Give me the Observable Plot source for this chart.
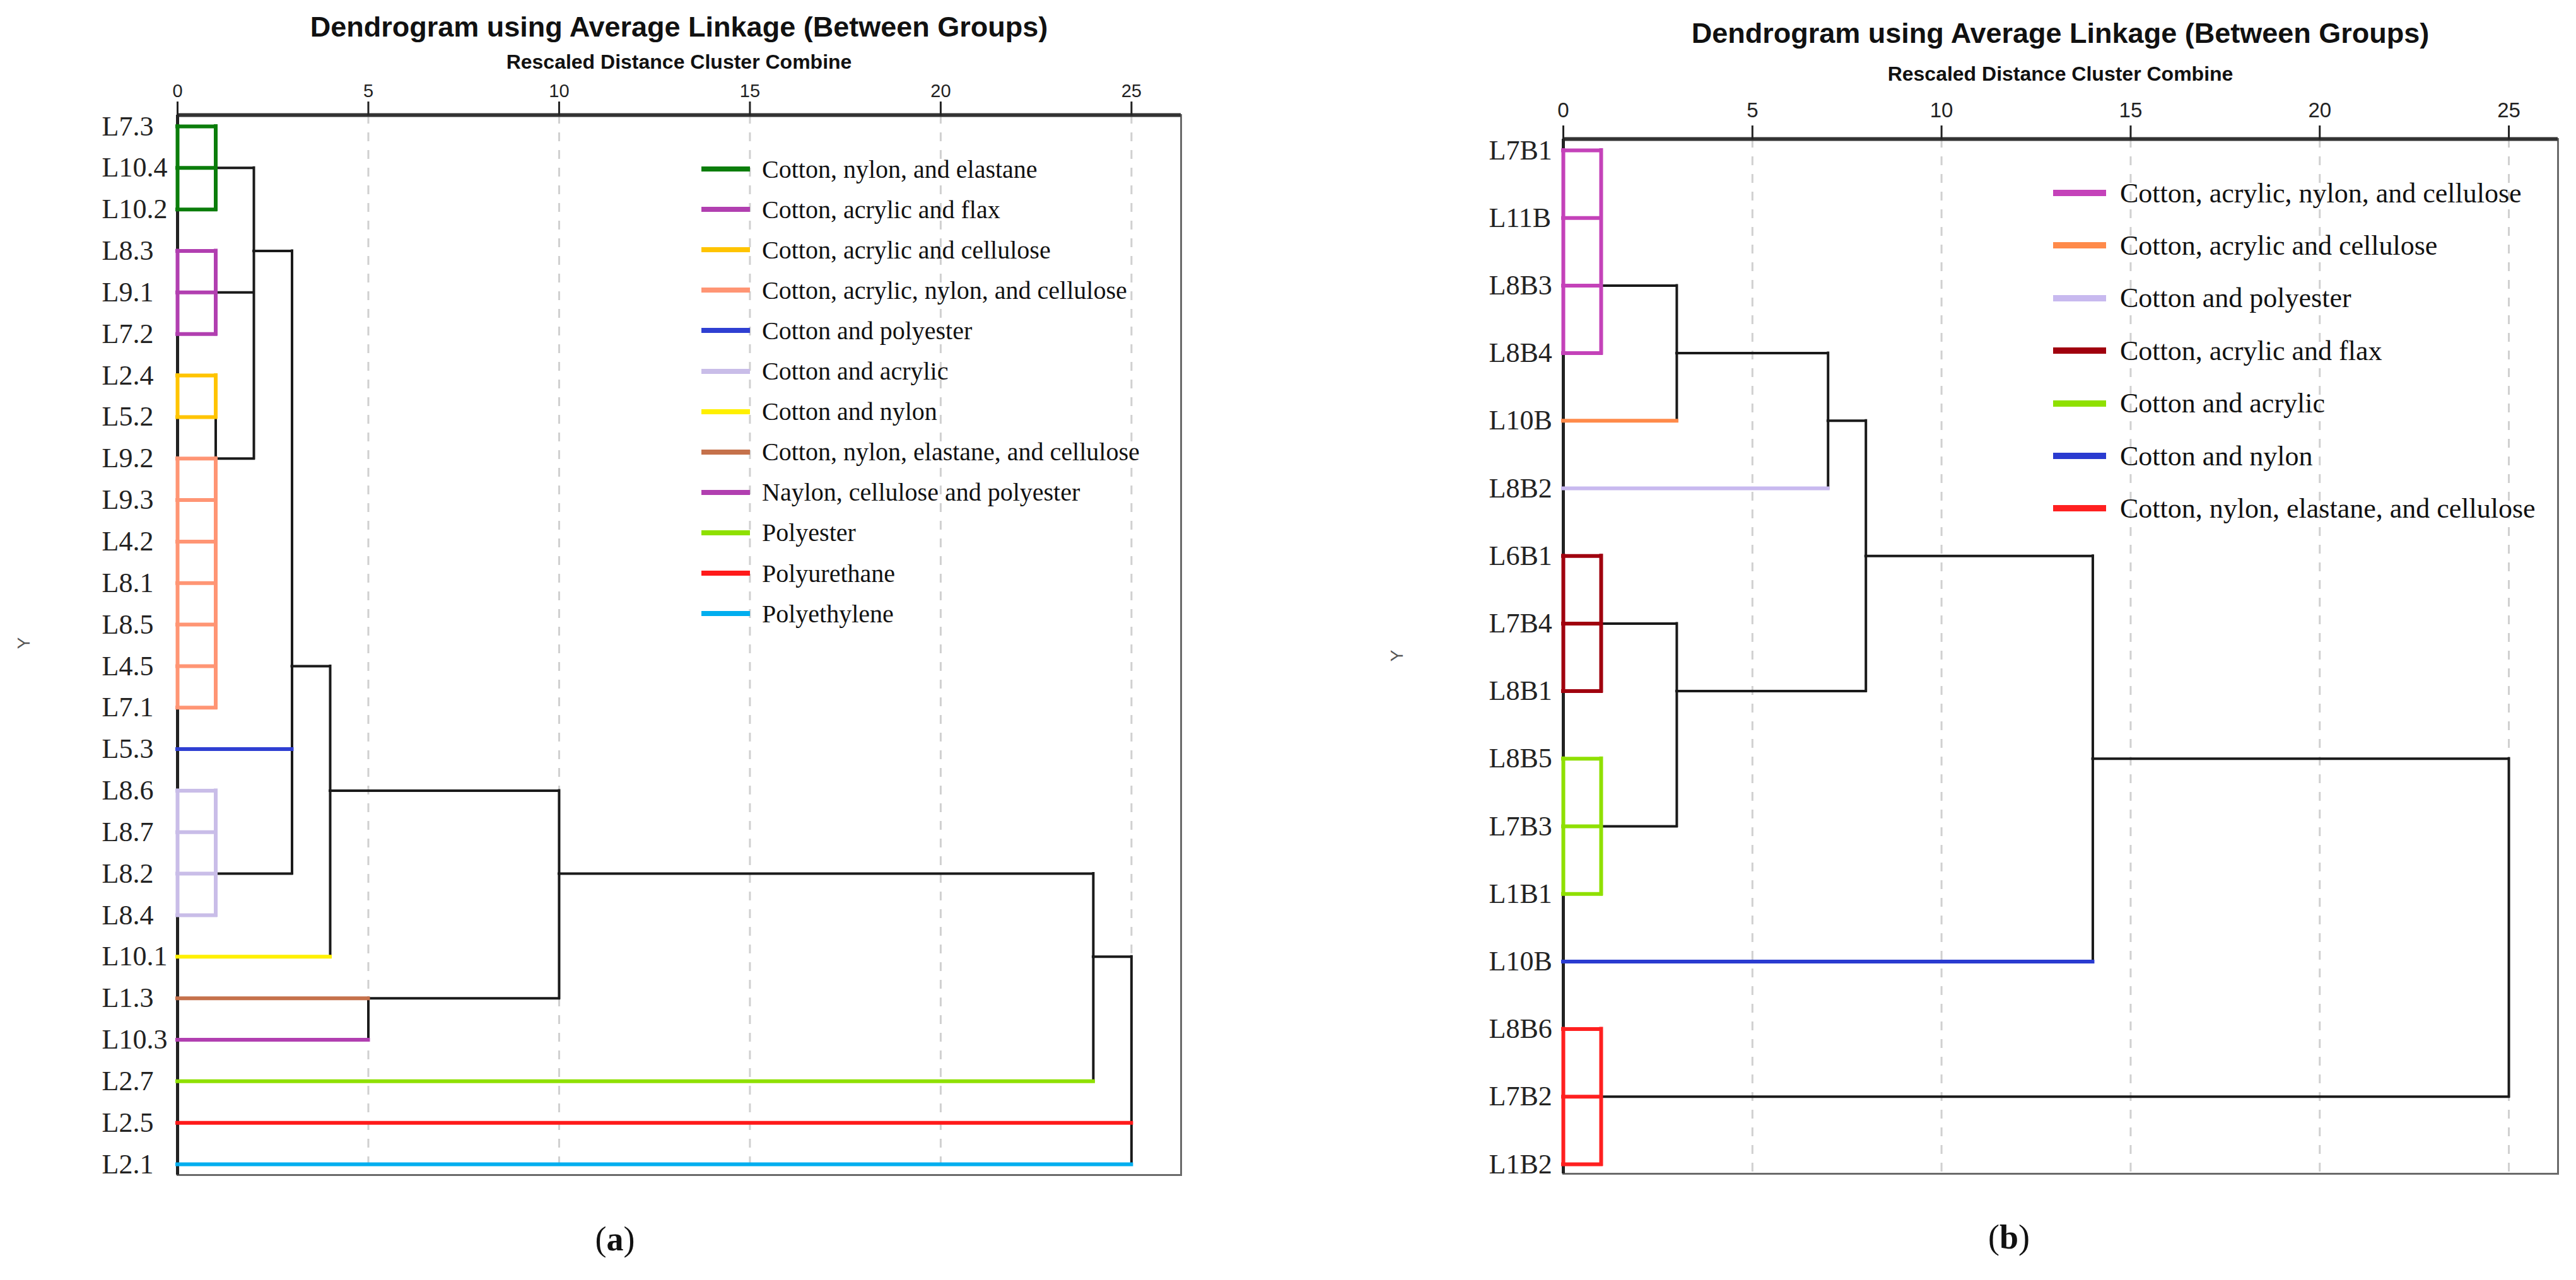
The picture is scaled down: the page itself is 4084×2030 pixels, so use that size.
<!DOCTYPE html>
<html>
<head>
<meta charset="utf-8">
<script src="https://cdn.jsdelivr.net/npm/d3@7"></script>
<script src="https://cdn.jsdelivr.net/npm/@observablehq/plot@0.6"></script>
<style>
  html, body { margin: 0; padding: 0; background: #fff; }
  #page { position: relative; width: 4084px; height: 2030px; overflow: hidden; background: #fff; }
  .abs { position: absolute; white-space: nowrap; }
  .title { font-family: "Liberation Sans", Arial, sans-serif; font-weight: bold; color: #111; transform: translate(-50%, -50%); }
  .ylab { font-family: "Liberation Sans", Arial, sans-serif; color: #555; transform: translate(-50%, -50%) rotate(-90deg); }
  .cap { font-family: "Liberation Serif", "Times New Roman", serif; color: #111; transform: translate(-50%, -50%); }
  .leg { display: flex; align-items: center; font-family: "Liberation Serif", "Times New Roman", serif; color: #111; }
  svg { position: absolute; top: 0; }
</style>
</head>
<body>
<div id="page"></div>
<script>
// ---------------- DATA: panel (a) ----------------
const leavesA = ["L7.3","L10.4","L10.2","L8.3","L9.1","L7.2","L2.4","L5.2","L9.2","L9.3","L4.2","L8.1","L8.5","L4.5","L7.1","L5.3","L8.6","L8.7","L8.2","L8.4","L10.1","L1.3","L10.3","L2.7","L2.5","L2.1"];
const groupsA = ["Cotton, nylon, and elastane","Cotton, acrylic and flax","Cotton, acrylic and cellulose","Cotton, acrylic, nylon, and cellulose","Cotton and polyester","Cotton and acrylic","Cotton and nylon","Cotton, nylon, elastane, and cellulose","Naylon, cellulose and polyester","Polyester","Polyurethane","Polyethylene"];
const colorsA = ["#0b7d0b","#b13fb0","#ffc400","#ff9574","#2f3fd2","#c9bde8","#fff000","#c5714b","#b13fb0","#8fe000","#ff1a1a","#00aeef"];
const leafGroupA = [0,0,0,1,1,1,2,2,3,3,3,3,3,3,3,4,5,5,5,5,6,7,8,9,10,11];
const leafEndA   = [1,1,1,1,1,1,1,1,1,1,1,1,1,1,1,3,1,1,1,1,4,5,5,24,25,25];
// boxed clusters: [group, first row, last row, height]
const boxesA = [[0,0,2,1],[1,3,5,1],[2,6,7,1],[3,8,14,1],[5,16,19,1]];
// merges: height, rows of children links, start distance of each child link
const mergeHeightA = [1, 2, 3, 4, 5, 10, 24, 25];
const mergeRowsA   = [[7,8],[1,4,8],[3,15,18],[13,20],[21,22],[16,21],[18,23],[20,24,25]];
const mergeFromA   = [[1,1],[1,1,1],[2,3,1],[3,4],[5,5],[4,5],[10,24],[24,25,25]];

// ---------------- DATA: panel (b) ----------------
const leavesB = ["L7B1","L11B","L8B3","L8B4","L10B","L8B2","L6B1","L7B4","L8B1","L8B5","L7B3","L1B1","L10B","L8B6","L7B2","L1B2"];
const groupsB = ["Cotton, acrylic, nylon, and cellulose","Cotton, acrylic and cellulose","Cotton and polyester","Cotton, acrylic and flax","Cotton and acrylic","Cotton and nylon","Cotton, nylon, elastane, and cellulose"];
const colorsB = ["#c442b9","#ff8a4a","#c8b9ef","#a0000e","#8fe000","#2a3bd0","#ff2020"];
const leafGroupB = [0,0,0,0,1,2,3,3,3,4,4,4,5,6,6,6];
const leafEndB   = [1,1,1,1,3,7,1,1,1,1,1,1,14,1,1,1];
const boxesB = [[0,0,3,1],[3,6,8,1],[4,9,11,1],[6,13,15,1]];
const mergeHeightB = [3, 7, 3, 8, 14, 25];
const mergeRowsB   = [[2,4],[3,5],[7,10],[4,8],[6,12],[9,14]];
const mergeFromB   = [[1,3],[3,7],[1,1],[7,3],[8,14],[14,1]];

const xTicks = [0, 5, 10, 15, 20, 25];
const gridTicks = [5, 10, 15, 20, 25];
const xMax = 26.3;

const titleText = "Dendrogram using Average Linkage (Between Groups)";
const subtitleText = "Rescaled Distance Cluster Combine";

// ---------------- BUILD ----------------
const page = document.getElementById("page");

function addDiv(cls, text, css) {
  const d = document.createElement("div");
  d.className = "abs " + cls;
  if (text != null) d.textContent = text;
  Object.assign(d.style, css);
  page.appendChild(d);
  return d;
}

function panel(cfg) {
  const {leaves, groups, colors, leafGroup, leafEnd, boxes, mH, mRows, mFrom} = cfg;
  const leafTable = leaves.map((label, i) => ({row: i, label, x1: 0, x2: leafEnd[i], g: groups[leafGroup[i]]}));
  const boxTable = boxes.flatMap(([g, a, b, h]) => [
    {x: 0, y1: a, y2: b, g: groups[g]},
    {x: h, y1: a, y2: b, g: groups[g]}
  ]);
  const vTable = mH.map((h, k) => ({x: h, y1: d3.min(mRows[k]), y2: d3.max(mRows[k])}));
  const hTable = mH.flatMap((h, k) => mRows[k].map((r, j) => ({row: r, x1: mFrom[k][j], x2: h}))).filter(d => d.x1 < d.x2);

  const svg = Plot.plot({
    width: cfg.width, height: cfg.height,
    marginLeft: cfg.ml, marginRight: cfg.mr, marginTop: cfg.mt, marginBottom: cfg.mb,
    style: {background: "transparent", fontFamily: '"Liberation Sans Narrow", "Liberation Sans", Arial, sans-serif', fontSize: cfg.tickFont + "px", color: "#222"},
    x: {domain: [0, xMax]},
    y: {domain: [0, leaves.length - 1], reverse: true, insetTop: cfg.insetTop, insetBottom: cfg.insetBottom, axis: null},
    color: {domain: groups, range: colors},
    marks: [
      Plot.ruleX(gridTicks, {stroke: "#d0d0d0", strokeWidth: 3, strokeDasharray: "14,14"}),
      Plot.frame({stroke: "#6a6a6a", strokeWidth: 3}),
      Plot.ruleY([0], {dy: -cfg.insetTop, stroke: "#333", strokeWidth: 6}),
      Plot.ruleX([0], {stroke: "#222", strokeWidth: 5}),
      Plot.ruleX(vTable, {x: "x", y1: "y1", y2: "y2", stroke: "#1a1a1a", strokeWidth: 4, strokeLinecap: "square"}),
      Plot.ruleY(hTable, {y: "row", x1: "x1", x2: "x2", stroke: "#1a1a1a", strokeWidth: 4, strokeLinecap: "square"}),
      Plot.ruleY(leafTable, {y: "row", x1: "x1", x2: "x2", stroke: "g", strokeWidth: cfg.colorWidth, strokeLinecap: "square"}),
      Plot.ruleX(boxTable, {x: "x", y1: "y1", y2: "y2", stroke: "g", strokeWidth: cfg.colorWidth, strokeLinecap: "square"}),
      Plot.text(leafTable, {y: "row", text: "label", frameAnchor: "left", textAnchor: "start", dx: cfg.labelDx,
        fontSize: cfg.leafFont, fontFamily: '"Liberation Serif", "Times New Roman", serif', fill: "#222", letterSpacing: cfg.leafSpacing}),
      Plot.axisX({anchor: "top", ticks: xTicks, tickSize: 22, tickPadding: cfg.tickPad, strokeWidth: 3, stroke: "#222", label: null, fill: "#222"})
    ]
  });
  svg.style.left = cfg.left + "px";
  page.appendChild(svg);

  // titles
  const cx = cfg.left + cfg.ml + (cfg.width - cfg.ml - cfg.mr) / 2;
  addDiv("title", titleText, {left: cx + "px", top: cfg.titleY + "px", fontSize: "45px"});
  addDiv("title", subtitleText, {left: cx + "px", top: cfg.subY + "px", fontSize: "32px"});
  addDiv("ylab", "Y", {left: cfg.yLabX + "px", top: cfg.yLabY + "px", fontSize: "28px"});

  // legend
  groups.forEach((g, i) => {
    const row = addDiv("leg", null, {left: cfg.legX + "px", top: (cfg.legY + i * cfg.legStep - 30) + "px", height: "60px", fontSize: cfg.legFont + "px"});
    const sw = document.createElement("span");
    Object.assign(sw.style, {display: "inline-block", width: cfg.swW + "px", height: cfg.swH + "px", background: colors[i], marginRight: cfg.swGap + "px"});
    const tx = document.createElement("span");
    tx.textContent = g;
    row.appendChild(sw); row.appendChild(tx);
  });

  // caption
  const cap = addDiv("cap", null, {left: cfg.capX + "px", top: cfg.capY + "px", fontSize: "54px"});
  cap.innerHTML = "(<b>" + cfg.capLetter + "</b>)";
}

panel({
  leaves: leavesA, groups: groupsA, colors: colorsA, leafGroup: leafGroupA, leafEnd: leafEndA, boxes: boxesA,
  mH: mergeHeightA, mRows: mergeRowsA, mFrom: mergeFromA,
  left: 0, width: 2040, height: 1900, ml: 281, mr: 168, mt: 182, mb: 37, insetTop: 18, insetBottom: 17,
  tickFont: 29, tickPad: 7, leafFont: 44, leafSpacing: 1, labelDx: -120, colorWidth: 6,
  titleY: 43, subY: 98, yLabX: 38, yLabY: 1020,
  legX: 1112, legY: 268, legStep: 64.1, legFont: 40, swW: 77, swH: 8, swGap: 19,
  capX: 975, capY: 1965, capLetter: "a"
});

panel({
  leaves: leavesB, groups: groupsB, colors: colorsB, leafGroup: leafGroupB, leafEnd: leafEndB, boxes: boxesB,
  mH: mergeHeightB, mRows: mergeRowsB, mFrom: mergeFromB,
  left: 2044, width: 2040, height: 1900, ml: 434, mr: 29, mt: 220, mb: 39, insetTop: 18, insetBottom: 15,
  tickFont: 33, tickPad: 13, leafFont: 44, leafSpacing: 0, labelDx: -118, colorWidth: 6,
  titleY: 53, subY: 117, yLabX: 2215, yLabY: 1040,
  legX: 3255, legY: 306, legStep: 83.4, legFont: 44, swW: 84, swH: 10, swGap: 22,
  capX: 3185, capY: 1962, capLetter: "b"
});
</script>
</body>
</html>
